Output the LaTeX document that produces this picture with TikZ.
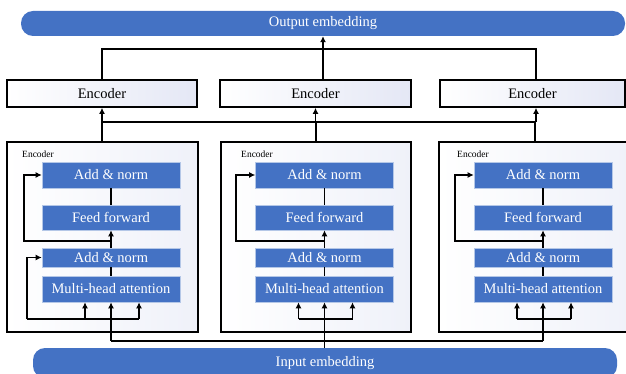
\documentclass[tikz,border=0pt]{standalone}
\usepackage{fontspec}
\setmainfont{Liberation Serif}
\newfontfamily\tnr{Liberation Serif}
\usetikzlibrary{arrows.meta}
\definecolor{bblue}{HTML}{4472C4}
\definecolor{lav}{HTML}{E4E7F5}
\definecolor{lav2}{HTML}{EFF1F9}
\definecolor{blkline}{HTML}{B4C7E7}
\begin{document}
\begin{tikzpicture}[x=1pt,y=-1pt,
  bigfont/.style={font=\tnr\fontsize{14.5}{16}\selectfont},
  bar/.style={fill=bblue, rounded corners=12pt, text=white, bigfont, inner sep=0pt},
  topenc/.style={draw, line width=1.7pt, left color=white, right color=lav, bigfont, inner sep=0pt, minimum height=27pt},
  bigbox/.style={draw, line width=1.5pt, left color=white, right color=lav2, inner sep=0pt, minimum height=190pt},
  blk/.style={fill=bblue, draw=blkline, line width=0.6pt, text=white, bigfont, inner sep=0pt, minimum width=138pt},
  small/.style={font=\tnr\fontsize{9.5}{10}\selectfont, inner sep=0pt, anchor=west},
  conn/.style={line width=1.8pt},
  arr/.style={conn, -{Latex[length=6pt,width=6pt]}}
]
\useasboundingbox (0,0) rectangle (626,374);

% embeddings
\node[bar, minimum width=604pt, minimum height=25pt] (out) at (323,23.5) {Output embedding};
\node[bar, minimum width=584pt, minimum height=30pt] (in) at (325,363) {Input embedding};

% top encoders
\node[topenc, minimum width=190pt] (enc1) at (102,93.5) {Encoder};
\node[topenc, minimum width=191pt] (enc2) at (315.5,93.5) {Encoder};
\node[topenc, minimum width=185pt] (enc3) at (532.5,93.5) {Encoder};

% detailed encoders
\foreach \i/\bx/\bw/\cx/\rx/\lx/\tx in {1/102.5/191/111/24/22/102, 2/316/190/324.5/236/241/316, 3/539.5/201/543/455/457/535}{
  \node[bigbox, minimum width=\bw pt] (big\i) at (\bx,237) {};
  \node[small] (lab\i) at (\lx,154) {Encoder};
  \node[blk, minimum height=26pt] (ANa\i) at (\cx,175) {Add \& norm};
  \node[blk, minimum height=25pt] (FF\i) at (\cx,217.5) {Feed forward};
  \node[blk, minimum height=19pt] (ANb\i) at (\cx,257.5) {Add \& norm};
  \node[blk, minimum height=26pt] (MHA\i) at (\cx,289) {Multi-head attention};
  \draw[conn] (FF\i.north) -- (ANa\i.south);
  \draw[arr] (ANb\i.north) -- (FF\i.south);
  \draw[conn] (MHA\i.north) -- (ANb\i.south);
  \coordinate (rs\i) at (\cx,241);
  \coordinate (rl\i) at (\rx,241);
  \draw[arr] (rs\i) -- (rl\i) |- (ANa\i.west);
  \coordinate (bl\i) at (\cx-26,319);
  \coordinate (br\i) at (\cx+28,319);
  \draw[conn] (bl\i) -- (br\i);
  \draw[arr] (bl\i) -- (bl\i |- MHA\i.south);
  \draw[arr] (br\i) -- (br\i |- MHA\i.south);
  \coordinate (bt\i) at (\tx,142);
  \coordinate (m\i) at (\cx,341);
}

% residual for second add & norm (first encoder only)
\coordinate (r2) at (27,319);
\draw[conn] (r2) -- (bl1);
\draw[arr] (r2) |- (ANb1.west);

% input distribution
\draw[conn] (m1) -- (m3);
\draw[arr] (m1) -- (MHA1.south);
\draw[arr] (m3) -- (MHA3.south);
\draw[arr] (in.north -| MHA2.south) -- (MHA2.south);

% connections to top encoders
\coordinate (ha) at (0,49);
\coordinate (hb) at (0,122);
\coordinate (e3n) at ([xshift=3.5pt]enc3.north);
\coordinate (e3s) at ([xshift=3.5pt]enc3.south);
\draw[conn] (enc1.south |- hb) -- (e3s |- hb);
\foreach \i in {1,2,3}{
  \draw[conn] (bt\i) -- (bt\i |- hb);
}
\draw[arr] (enc1.south |- hb) -- (enc1.south);
\draw[arr] (enc2.south |- hb) -- (enc2.south);
\draw[arr] (e3s |- hb) -- (e3s);

% top output
\draw[conn] (enc1.north) -- (enc1.north |- ha) -- (e3n |- ha) -- (e3n);
\draw[arr] (enc2.north -| out.south) -- (out.south);
\end{tikzpicture}
\end{document}
